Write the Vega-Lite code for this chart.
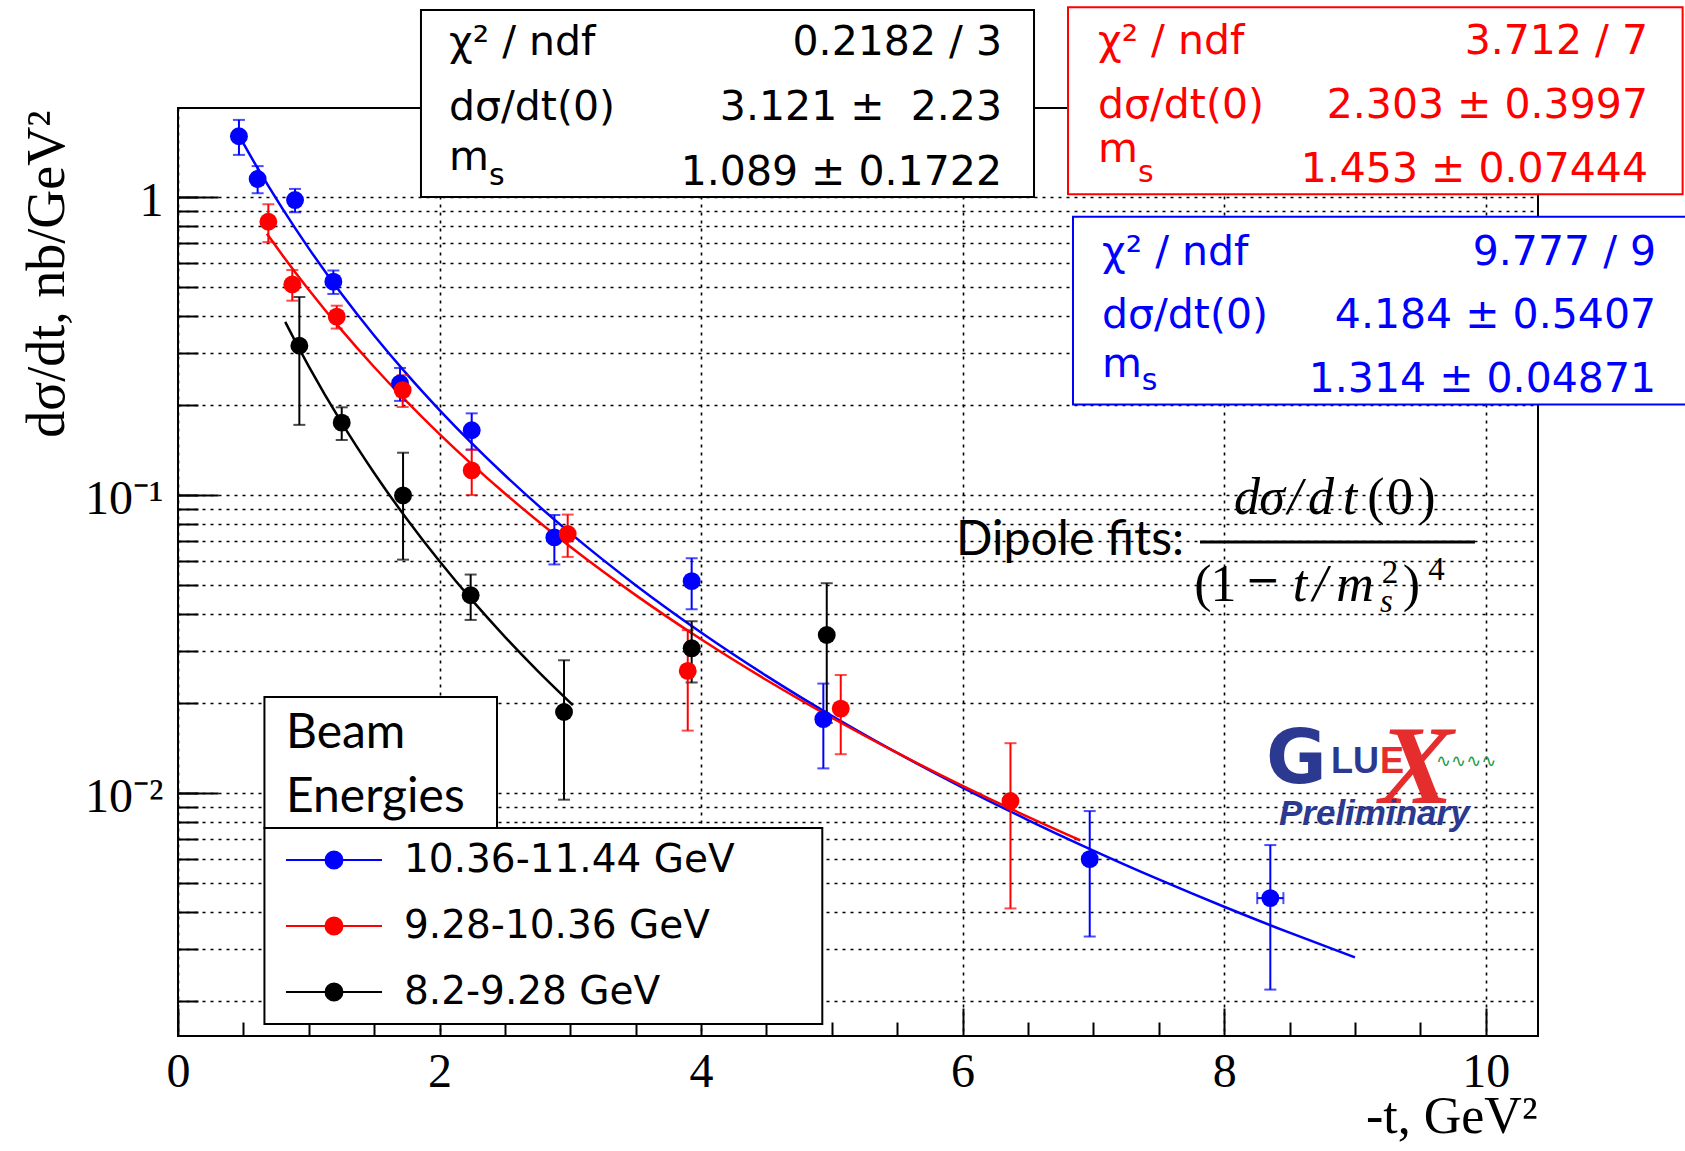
{
  "$schema": "https://vega.github.io/schema/vega-lite/v6.json",
  "width": 1360,
  "height": 928,
  "autosize": "none",
  "padding": {"left": 178, "top": 108, "right": 147, "bottom": 115},
  "background": "white",
  "config": {"view": {"stroke": "black", "strokeWidth": 2, "fill": "white"}},
  "datasets": {
    "points": [
      {"series": "10.36-11.44 GeV", "x": 0.466, "y": 1.60, "yerr": 0.215, "xerr": 0},
      {"series": "10.36-11.44 GeV", "x": 0.609, "y": 1.15, "yerr": 0.12, "xerr": 0},
      {"series": "10.36-11.44 GeV", "x": 0.895, "y": 0.977, "yerr": 0.088, "xerr": 0},
      {"series": "10.36-11.44 GeV", "x": 1.188, "y": 0.52, "yerr": 0.047, "xerr": 0},
      {"series": "10.36-11.44 GeV", "x": 1.698, "y": 0.237, "yerr": 0.030, "xerr": 0},
      {"series": "10.36-11.44 GeV", "x": 2.246, "y": 0.165, "yerr": 0.023, "xerr": 0},
      {"series": "10.36-11.44 GeV", "x": 2.878, "y": 0.0721, "yerr": 0.0136, "xerr": 0},
      {"series": "10.36-11.44 GeV", "x": 3.928, "y": 0.0514, "yerr": 0.0100, "xerr": 0},
      {"series": "10.36-11.44 GeV", "x": 4.935, "y": 0.0177, "yerr": 0.0056, "xerr": 0},
      {"series": "10.36-11.44 GeV", "x": 6.972, "y": 0.0060, "yerr": 0.0027, "xerr": 0},
      {"series": "10.36-11.44 GeV", "x": 8.353, "y": 0.00444, "yerr": 0.00225, "xerr": 0.1},
      {"series": "9.28-10.36 GeV", "x": 0.691, "y": 0.826, "yerr": 0.12, "xerr": 0},
      {"series": "9.28-10.36 GeV", "x": 0.874, "y": 0.509, "yerr": 0.06, "xerr": 0},
      {"series": "9.28-10.36 GeV", "x": 1.214, "y": 0.397, "yerr": 0.035, "xerr": 0},
      {"series": "9.28-10.36 GeV", "x": 1.718, "y": 0.225, "yerr": 0.0275, "xerr": 0},
      {"series": "9.28-10.36 GeV", "x": 2.246, "y": 0.121, "yerr": 0.021, "xerr": 0},
      {"series": "9.28-10.36 GeV", "x": 2.980, "y": 0.074, "yerr": 0.012, "xerr": 0},
      {"series": "9.28-10.36 GeV", "x": 3.898, "y": 0.0257, "yerr": 0.0095, "xerr": 0},
      {"series": "9.28-10.36 GeV", "x": 5.068, "y": 0.0192, "yerr": 0.0057, "xerr": 0},
      {"series": "9.28-10.36 GeV", "x": 6.366, "y": 0.0094, "yerr": 0.0053, "xerr": 0},
      {"series": "8.2-9.28 GeV", "x": 0.928, "y": 0.317, "yerr": 0.145, "xerr": 0},
      {"series": "8.2-9.28 GeV", "x": 1.252, "y": 0.175, "yerr": 0.022, "xerr": 0},
      {"series": "8.2-9.28 GeV", "x": 1.721, "y": 0.0997, "yerr": 0.039, "xerr": 0},
      {"series": "8.2-9.28 GeV", "x": 2.238, "y": 0.0461, "yerr": 0.008, "xerr": 0},
      {"series": "8.2-9.28 GeV", "x": 2.952, "y": 0.0187, "yerr": 0.0092, "xerr": 0},
      {"series": "8.2-9.28 GeV", "x": 3.928, "y": 0.0306, "yerr": 0.0071, "xerr": 0},
      {"series": "8.2-9.28 GeV", "x": 4.961, "y": 0.0339, "yerr": 0.0167, "xerr": 0}
    ],
    "fits": [
      {"series": "10.36-11.44 GeV", "x": 0.45, "y": 1.6567},
      {"series": "10.36-11.44 GeV", "x": 0.6, "y": 1.2690},
      {"series": "10.36-11.44 GeV", "x": 0.8, "y": 0.91246},
      {"series": "10.36-11.44 GeV", "x": 1.0, "y": 0.67279},
      {"series": "10.36-11.44 GeV", "x": 1.25, "y": 0.47367},
      {"series": "10.36-11.44 GeV", "x": 1.5, "y": 0.34307},
      {"series": "10.36-11.44 GeV", "x": 1.75, "y": 0.25453},
      {"series": "10.36-11.44 GeV", "x": 2.0, "y": 0.19280},
      {"series": "10.36-11.44 GeV", "x": 2.5, "y": 0.11652},
      {"series": "10.36-11.44 GeV", "x": 3.0, "y": 0.074502},
      {"series": "10.36-11.44 GeV", "x": 3.5, "y": 0.049829},
      {"series": "10.36-11.44 GeV", "x": 4.0, "y": 0.034576},
      {"series": "10.36-11.44 GeV", "x": 4.5, "y": 0.024738},
      {"series": "10.36-11.44 GeV", "x": 5.0, "y": 0.018163},
      {"series": "10.36-11.44 GeV", "x": 5.5, "y": 0.013634},
      {"series": "10.36-11.44 GeV", "x": 6.0, "y": 0.010433},
      {"series": "10.36-11.44 GeV", "x": 6.5, "y": 0.0081186},
      {"series": "10.36-11.44 GeV", "x": 7.0, "y": 0.0064118},
      {"series": "10.36-11.44 GeV", "x": 7.5, "y": 0.0051309},
      {"series": "10.36-11.44 GeV", "x": 8.0, "y": 0.0041544},
      {"series": "10.36-11.44 GeV", "x": 8.5, "y": 0.0033996},
      {"series": "10.36-11.44 GeV", "x": 9.0, "y": 0.0028087},
      {"series": "9.28-10.36 GeV", "x": 0.68, "y": 0.75378},
      {"series": "9.28-10.36 GeV", "x": 0.8, "y": 0.63697},
      {"series": "9.28-10.36 GeV", "x": 1.0, "y": 0.48832},
      {"series": "9.28-10.36 GeV", "x": 1.25, "y": 0.35845},
      {"series": "9.28-10.36 GeV", "x": 1.5, "y": 0.26903},
      {"series": "9.28-10.36 GeV", "x": 1.75, "y": 0.20584},
      {"series": "9.28-10.36 GeV", "x": 2.0, "y": 0.16015},
      {"series": "9.28-10.36 GeV", "x": 2.5, "y": 0.10119},
      {"series": "9.28-10.36 GeV", "x": 3.0, "y": 0.067038},
      {"series": "9.28-10.36 GeV", "x": 3.5, "y": 0.046152},
      {"series": "9.28-10.36 GeV", "x": 4.0, "y": 0.032802},
      {"series": "9.28-10.36 GeV", "x": 4.5, "y": 0.023949},
      {"series": "9.28-10.36 GeV", "x": 5.0, "y": 0.017891},
      {"series": "9.28-10.36 GeV", "x": 5.5, "y": 0.013633},
      {"series": "9.28-10.36 GeV", "x": 6.0, "y": 0.010570},
      {"series": "9.28-10.36 GeV", "x": 6.5, "y": 0.0083206},
      {"series": "9.28-10.36 GeV", "x": 6.9, "y": 0.0069388},
      {"series": "8.2-9.28 GeV", "x": 0.82, "y": 0.38130},
      {"series": "8.2-9.28 GeV", "x": 0.92, "y": 0.31387},
      {"series": "8.2-9.28 GeV", "x": 1.0, "y": 0.27038},
      {"series": "8.2-9.28 GeV", "x": 1.25, "y": 0.17533},
      {"series": "8.2-9.28 GeV", "x": 1.5, "y": 0.11862},
      {"series": "8.2-9.28 GeV", "x": 1.75, "y": 0.083088},
      {"series": "8.2-9.28 GeV", "x": 2.0, "y": 0.059920},
      {"series": "8.2-9.28 GeV", "x": 2.25, "y": 0.044294},
      {"series": "8.2-9.28 GeV", "x": 2.5, "y": 0.033445},
      {"series": "8.2-9.28 GeV", "x": 2.75, "y": 0.025723},
      {"series": "8.2-9.28 GeV", "x": 3.02, "y": 0.019728}
    ],
    "statBoxes": [
      {"series": "8.2-9.28 GeV", "x": 1.858, "x2": 6.546, "y": 1.0, "y2": 4.242},
      {"series": "9.28-10.36 GeV", "x": 6.806, "x2": 11.506, "y": 1.021, "y2": 4.332},
      {"series": "10.36-11.44 GeV", "x": 6.844, "x2": 11.55, "y": 0.2015, "y2": 0.8589}
    ],
    "stats": [
      {"series": "8.2-9.28 GeV", "part": "name", "text": "χ² / ndf", "x": 2.0723, "y": 2.996},
      {"series": "8.2-9.28 GeV", "part": "value", "text": "0.2182 / 3", "x": 6.301, "y": 2.996},
      {"series": "8.2-9.28 GeV", "part": "name", "text": "dσ/dt(0)", "x": 2.0723, "y": 1.813},
      {"series": "8.2-9.28 GeV", "part": "value", "text": "3.121 ±\u00a0 2.23", "x": 6.301, "y": 1.813},
      {"series": "8.2-9.28 GeV", "part": "name", "text": "m", "x": 2.0723, "y": 1.232},
      {"series": "8.2-9.28 GeV", "part": "sub", "text": "s", "x": 2.378, "y": 1.097},
      {"series": "8.2-9.28 GeV", "part": "value", "text": "1.089 ± 0.1722", "x": 6.301, "y": 1.097},
      {"series": "9.28-10.36 GeV", "part": "name", "text": "χ² / ndf", "x": 7.035, "y": 3.019},
      {"series": "9.28-10.36 GeV", "part": "value", "text": "3.712 / 7", "x": 11.241, "y": 3.019},
      {"series": "9.28-10.36 GeV", "part": "name", "text": "dσ/dt(0)", "x": 7.035, "y": 1.837},
      {"series": "9.28-10.36 GeV", "part": "value", "text": "2.303 ± 0.3997", "x": 11.241, "y": 1.837},
      {"series": "9.28-10.36 GeV", "part": "name", "text": "m", "x": 7.035, "y": 1.314},
      {"series": "9.28-10.36 GeV", "part": "sub", "text": "s", "x": 7.341, "y": 1.126},
      {"series": "9.28-10.36 GeV", "part": "value", "text": "1.453 ± 0.07444", "x": 11.241, "y": 1.126},
      {"series": "10.36-11.44 GeV", "part": "name", "text": "χ² / ndf", "x": 7.066, "y": 0.5910},
      {"series": "10.36-11.44 GeV", "part": "value", "text": "9.777 / 9", "x": 11.303, "y": 0.5910},
      {"series": "10.36-11.44 GeV", "part": "name", "text": "dσ/dt(0)", "x": 7.066, "y": 0.3626},
      {"series": "10.36-11.44 GeV", "part": "value", "text": "4.184 ± 0.5407", "x": 11.303, "y": 0.3626},
      {"series": "10.36-11.44 GeV", "part": "name", "text": "m", "x": 7.066, "y": 0.2494},
      {"series": "10.36-11.44 GeV", "part": "sub", "text": "s", "x": 7.370, "y": 0.2251},
      {"series": "10.36-11.44 GeV", "part": "value", "text": "1.314 ± 0.04871", "x": 11.303, "y": 0.2222}
    ],
    "frames": [
      {"x": 0.661, "x2": 2.4394, "y": 0.007631, "y2": 0.02099},
      {"x": 0.661, "x2": 4.927, "y": 0.001678, "y2": 0.007631}
    ],
    "bars": [
      {"x": 7.815, "x2": 9.918, "y": 0.06957}
    ],
    "notes": [
      {"role": "legend-title", "text": "Beam", "x": 0.8259, "y": 0.01416},
      {"role": "legend-title", "text": "Energies", "x": 0.8259, "y": 0.008653},
      {"role": "formula-label", "text": "Dipole fits:", "x": 5.949, "y": 0.06289},
      {"role": "formula-italic", "text": "d", "x": 8.1746, "y": 0.08635},
      {"role": "formula-italic", "text": "σ", "x": 8.3659, "y": 0.08635},
      {"role": "formula-italic", "text": "/", "x": 8.5417, "y": 0.08635},
      {"role": "formula-italic", "text": "d", "x": 8.7406, "y": 0.08635},
      {"role": "formula-italic", "text": "t", "x": 8.9623, "y": 0.08635},
      {"role": "formula-upright", "text": "(", "x": 9.1611, "y": 0.08635},
      {"role": "formula-upright", "text": "0", "x": 9.3447, "y": 0.08635},
      {"role": "formula-upright", "text": ")", "x": 9.5511, "y": 0.08635},
      {"role": "formula-upright", "text": "(", "x": 7.8382, "y": 0.04408},
      {"role": "formula-upright", "text": "1", "x": 7.9950, "y": 0.04408},
      {"role": "formula-minus", "text": "−", "x": 8.2932, "y": 0.04643},
      {"role": "formula-italic", "text": "t", "x": 8.5799, "y": 0.04408},
      {"role": "formula-italic", "text": "/", "x": 8.7329, "y": 0.04408},
      {"role": "formula-italic", "text": "m", "x": 9.0005, "y": 0.04408},
      {"role": "formula-sup", "text": "2", "x": 9.2682, "y": 0.05067},
      {"role": "formula-sub", "text": "s", "x": 9.2414, "y": 0.04060},
      {"role": "formula-upright", "text": ")", "x": 9.4326, "y": 0.04408},
      {"role": "formula-sup", "text": "4", "x": 9.6238, "y": 0.05186},
      {"role": "logo-G", "text": "G", "x": 8.320, "y": 0.01080},
      {"role": "logo-LU", "text": "LU", "x": 8.817, "y": 0.01167},
      {"role": "logo-E", "text": "E", "x": 9.192, "y": 0.01167},
      {"role": "logo-X", "text": "X", "x": 9.47, "y": 0.00925},
      {"role": "logo-wave", "text": "∿∿∿∿", "x": 9.62, "y": 0.01271},
      {"role": "logo-prelim", "text": "Preliminary", "x": 8.419, "y": 0.00781}
    ]
  },
  "encoding": {
    "x": {"field": "x", "type": "quantitative", "scale": {"domain": [0, 10.4], "nice": false, "zero": false}, "axis": null},
    "y": {"field": "y", "type": "quantitative", "scale": {"type": "log", "domain": [0.00153, 1.99], "nice": false}, "axis": null}
  },
  "layer": [
    {
      "data": {"name": "fits"},
      "mark": {"type": "line", "strokeWidth": 2.5, "interpolate": "monotone"},
      "encoding": {
        "x": {
          "field": "x", "type": "quantitative",
          "scale": {"domain": [0, 10.4], "nice": false, "zero": false},
          "axis": {
            "orient": "bottom", "values": [0, 2, 4, 6, 8, 10], "domain": false,
            "ticks": true, "tickSize": -28, "tickWidth": 2, "tickColor": "black",
            "labels": true, "labelFont": "Liberation Serif", "labelFontSize": 48, "labelColor": "black",
            "labelBaseline": "alphabetic", "labelPadding": 78, "labelFlush": false, "labelOverlap": false,
            "grid": true, "gridDash": [3, 5], "gridColor": "black", "gridWidth": 1.6, "gridOpacity": 1,
            "title": "-t, GeV²", "titleFont": "Liberation Serif", "titleFontSize": 52, "titleFontWeight": "normal",
            "titleColor": "black", "titleAnchor": "end", "titleAlign": "right", "titleBaseline": "alphabetic",
            "titleX": 1359, "titleY": 96
          }
        },
        "y": {
          "field": "y", "type": "quantitative",
          "scale": {"type": "log", "domain": [0.00153, 1.99], "nice": false},
          "axis": {
            "orient": "left", "values": [0.01, 0.1, 1], "domain": false,
            "ticks": true, "tickSize": -40, "tickWidth": 2, "tickColor": "black",
            "labels": true, "labelFont": "Liberation Serif", "labelFontSize": 48, "labelColor": "black",
            "labelExpr": "datum.value >= 0.99 ? '1' : datum.value >= 0.099 ? '10⁻¹' : '10⁻²'",
            "labelAlign": "right", "labelBaseline": "middle", "labelPadding": 55, "labelOffset": 4,
            "labelFlush": false, "labelOverlap": false, "grid": false,
            "title": "dσ/dt, nb/GeV²", "titleFont": "Liberation Serif", "titleFontSize": 54, "titleFontWeight": "normal",
            "titleColor": "black", "titleAngle": 270, "titleAlign": "right", "titleBaseline": "alphabetic",
            "titleX": -115, "titleY": 2
          }
        },
        "color": {
          "field": "series", "type": "nominal",
          "scale": {"domain": ["10.36-11.44 GeV", "9.28-10.36 GeV", "8.2-9.28 GeV"], "range": ["#0000ff", "#ff0000", "#000000"]},
          "legend": {
            "orient": "none", "legendX": 104.5, "legendY": 732.5, "title": null, "padding": 0, "rowPadding": 26,
            "symbolType": "M-1,0H5M2.53,0A0.53,0.53,0,1,1,1.47,0A0.53,0.53,0,1,1,2.53,0Z",
            "symbolSize": 1024, "symbolStrokeWidth": 2, "symbolOpacity": 1,
            "labelFont": "DejaVu Sans", "labelFontSize": 39, "labelColor": "black", "labelOffset": 82.5, "labelLimit": 800,
            "encode": {"symbols": {"update": {"fill": {"scale": "color", "field": "value"}, "stroke": {"scale": "color", "field": "value"}, "opacity": {"value": 1}}}}
          }
        }
      }
    },
    {
      "data": {"name": "points"},
      "mark": {"type": "errorbar", "ticks": true, "size": 12, "thickness": 2},
      "encoding": {
        "x": {"field": "x", "type": "quantitative", "scale": {"domain": [0, 10.4], "nice": false, "zero": false}, "axis": null},
        "y": {"field": "y", "type": "quantitative", "scale": {"type": "log", "domain": [0.00153, 1.99], "nice": false}, "axis": null},
        "yError": {"field": "yerr"},
        "color": {"field": "series", "type": "nominal"}
      }
    },
    {
      "data": {"name": "points"},
      "transform": [{"filter": "datum.xerr > 0"}],
      "mark": {"type": "errorbar", "ticks": true, "size": 12, "thickness": 2},
      "encoding": {
        "x": {"field": "x", "type": "quantitative", "scale": {"domain": [0, 10.4], "nice": false, "zero": false}, "axis": null},
        "y": {"field": "y", "type": "quantitative", "scale": {"type": "log", "domain": [0.00153, 1.99], "nice": false}, "axis": null},
        "xError": {"field": "xerr"},
        "color": {"field": "series", "type": "nominal"}
      }
    },
    {
      "data": {"name": "points"},
      "mark": {"type": "point", "filled": true, "shape": "circle", "size": 320, "opacity": 1},
      "encoding": {
        "x": {
          "field": "x", "type": "quantitative",
          "scale": {"domain": [0, 10.4], "nice": false, "zero": false},
          "axis": {
            "orient": "bottom", "values": [0.5, 1, 1.5, 2.5, 3, 3.5, 4.5, 5, 5.5, 6.5, 7, 7.5, 8.5, 9, 9.5],
            "domain": false, "labels": false, "ticks": true, "tickSize": -14, "tickWidth": 2, "tickColor": "black",
            "grid": false, "title": null
          }
        },
        "y": {
          "field": "y", "type": "quantitative",
          "scale": {"type": "log", "domain": [0.00153, 1.99], "nice": false},
          "axis": {
            "orient": "left",
            "values": [0.002, 0.003, 0.004, 0.005, 0.006, 0.007, 0.008, 0.009, 0.01, 0.02, 0.03, 0.04, 0.05, 0.06, 0.07, 0.08, 0.09, 0.1, 0.2, 0.3, 0.4, 0.5, 0.6, 0.7, 0.8, 0.9, 1],
            "domain": false, "labels": false, "ticks": true, "tickSize": -20, "tickWidth": 2, "tickColor": "black",
            "grid": true, "gridDash": [3, 5], "gridColor": "black", "gridWidth": 1.6, "gridOpacity": 1, "title": null
          }
        },
        "color": {"field": "series", "type": "nominal"}
      }
    },
    {
      "data": {"name": "statBoxes"},
      "mark": {"type": "rect", "fill": "white", "strokeWidth": 2},
      "encoding": {
        "x2": {"field": "x2"},
        "y2": {"field": "y2"},
        "stroke": {"field": "series", "type": "nominal", "scale": {"domain": ["10.36-11.44 GeV", "9.28-10.36 GeV", "8.2-9.28 GeV"], "range": ["#0000ff", "#ff0000", "#000000"]}, "legend": null}
      }
    },
    {
      "data": {"name": "stats"},
      "transform": [{"filter": "datum.part == 'name'"}],
      "mark": {"type": "text", "align": "left", "baseline": "alphabetic", "font": "DejaVu Sans", "fontSize": 41},
      "encoding": {"text": {"field": "text"}, "color": {"field": "series", "type": "nominal"}}
    },
    {
      "data": {"name": "stats"},
      "transform": [{"filter": "datum.part == 'value'"}],
      "mark": {"type": "text", "align": "right", "baseline": "alphabetic", "font": "DejaVu Sans", "fontSize": 41},
      "encoding": {"text": {"field": "text"}, "color": {"field": "series", "type": "nominal"}}
    },
    {
      "data": {"name": "stats"},
      "transform": [{"filter": "datum.part == 'sub'"}],
      "mark": {"type": "text", "align": "left", "baseline": "alphabetic", "font": "DejaVu Sans", "fontSize": 30},
      "encoding": {"text": {"field": "text"}, "color": {"field": "series", "type": "nominal"}}
    },
    {
      "data": {"name": "frames"},
      "mark": {"type": "rect", "fill": "white", "stroke": "black", "strokeWidth": 2},
      "encoding": {"x2": {"field": "x2"}, "y2": {"field": "y2"}}
    },
    {
      "data": {"name": "notes"},
      "transform": [{"filter": "datum.role == 'legend-title'"}],
      "mark": {"type": "text", "align": "left", "baseline": "alphabetic", "font": "Lato", "fontSize": 48, "color": "black"},
      "encoding": {"text": {"field": "text"}}
    },
    {
      "data": {"name": "notes"},
      "transform": [{"filter": "datum.role == 'formula-label'"}],
      "mark": {"type": "text", "align": "left", "baseline": "alphabetic", "font": "Lato", "fontSize": 48, "color": "black"},
      "encoding": {"text": {"field": "text"}}
    },
    {
      "data": {"name": "bars"},
      "mark": {"type": "rule", "strokeWidth": 3, "color": "black"},
      "encoding": {"x2": {"field": "x2"}}
    },
    {
      "data": {"name": "notes"},
      "transform": [{"filter": "datum.role == 'formula-italic'"}],
      "mark": {"type": "text", "align": "center", "baseline": "alphabetic", "font": "Liberation Serif", "fontStyle": "italic", "fontSize": 52, "color": "black"},
      "encoding": {"text": {"field": "text"}}
    },
    {
      "data": {"name": "notes"},
      "transform": [{"filter": "datum.role == 'formula-upright'"}],
      "mark": {"type": "text", "align": "center", "baseline": "alphabetic", "font": "Liberation Serif", "fontSize": 52, "color": "black"},
      "encoding": {"text": {"field": "text"}}
    },
    {
      "data": {"name": "notes"},
      "transform": [{"filter": "datum.role == 'formula-minus'"}],
      "mark": {"type": "text", "align": "center", "baseline": "alphabetic", "font": "DejaVu Serif", "fontSize": 42, "color": "black"},
      "encoding": {"text": {"field": "text"}}
    },
    {
      "data": {"name": "notes"},
      "transform": [{"filter": "datum.role == 'formula-sup'"}],
      "mark": {"type": "text", "align": "center", "baseline": "alphabetic", "font": "Liberation Serif", "fontSize": 33, "color": "black"},
      "encoding": {"text": {"field": "text"}}
    },
    {
      "data": {"name": "notes"},
      "transform": [{"filter": "datum.role == 'formula-sub'"}],
      "mark": {"type": "text", "align": "center", "baseline": "alphabetic", "font": "Liberation Serif", "fontStyle": "italic", "fontSize": 33, "color": "black"},
      "encoding": {"text": {"field": "text"}}
    },
    {
      "data": {"name": "notes"},
      "transform": [{"filter": "datum.role == 'logo-G'"}],
      "mark": {"type": "text", "align": "left", "baseline": "alphabetic", "font": "DejaVu Sans", "fontWeight": "bold", "fontSize": 74, "color": "#2b3990"},
      "encoding": {"text": {"field": "text"}}
    },
    {
      "data": {"name": "notes"},
      "transform": [{"filter": "datum.role == 'logo-LU'"}],
      "mark": {"type": "text", "align": "left", "baseline": "alphabetic", "font": "Liberation Sans", "fontWeight": "bold", "fontSize": 36, "color": "#2b3990"},
      "encoding": {"text": {"field": "text"}}
    },
    {
      "data": {"name": "notes"},
      "transform": [{"filter": "datum.role == 'logo-E'"}],
      "mark": {"type": "text", "align": "left", "baseline": "alphabetic", "font": "Liberation Sans", "fontWeight": "bold", "fontSize": 36, "color": "#e52d2e"},
      "encoding": {"text": {"field": "text"}}
    },
    {
      "data": {"name": "notes"},
      "transform": [{"filter": "datum.role == 'logo-X'"}],
      "mark": {"type": "text", "align": "center", "baseline": "alphabetic", "font": "Liberation Serif", "fontStyle": "italic", "fontWeight": "bold", "fontSize": 112, "color": "#e52d2e"},
      "encoding": {"text": {"field": "text"}}
    },
    {
      "data": {"name": "notes"},
      "transform": [{"filter": "datum.role == 'logo-wave'"}],
      "mark": {"type": "text", "align": "left", "baseline": "middle", "font": "DejaVu Sans", "fontSize": 18, "color": "#1d9a47"},
      "encoding": {"text": {"field": "text"}}
    },
    {
      "data": {"name": "notes"},
      "transform": [{"filter": "datum.role == 'logo-prelim'"}],
      "mark": {"type": "text", "align": "left", "baseline": "alphabetic", "font": "Liberation Sans", "fontWeight": "bold", "fontStyle": "italic", "fontSize": 35, "color": "#2b3990"},
      "encoding": {"text": {"field": "text"}}
    }
  ],
  "resolve": {"axis": {"x": "independent", "y": "independent"}}
}
